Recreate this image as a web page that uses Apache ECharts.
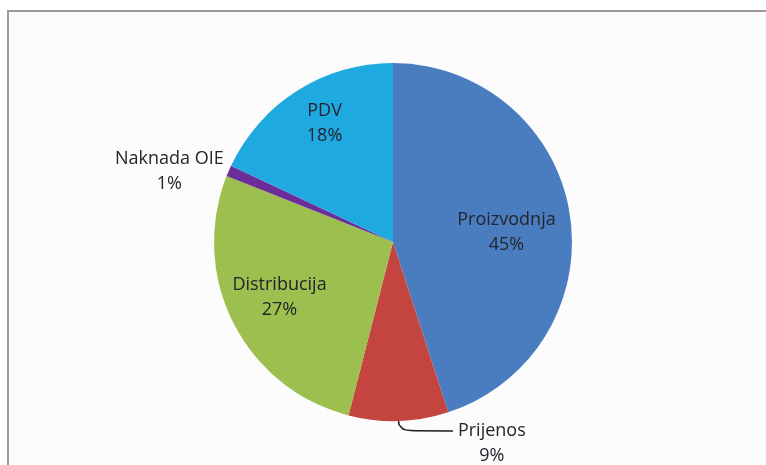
<!DOCTYPE html>
<html>
<head>
<meta charset="utf-8">
<script src="https://cdn.jsdelivr.net/npm/echarts@6/dist/echarts.min.js"></script>
<style>
  html, body { margin: 0; padding: 0; background: #ffffff; }
  #chart { width: 766px; height: 465px; }
</style>
</head>
<body>
<div id="chart"></div>
<script>
  // 数据：电价结构（%）
  const categories = ['Proizvodnja', 'Prijenos', 'Distribucija', 'Naknada OIE', 'PDV'];
  const shares = [45, 9, 27, 1, 18];

  // 颜色
  const sliceColors = ['#4a7dc0', '#c4443f', '#9cbf50', '#6c2d9b', '#1ea9e1'];
  const textColor = '#24242c';

  // 外部标签的类别
  const outsideLabels = ['Prijenos', 'Naknada OIE'];
  // 内部标签的微调（像 Excel 的"最佳匹配"位置）
  const labelNudge = { Proizvodnja: [-9, 10], PDV: [-2, -14], Distribucija: [-3, -1] };

  const chart = echarts.init(document.getElementById('chart'));

  const labelText = {
    formatter: '{t|{b}}\n{t|{c}%}',
    color: textColor,
    fontFamily: 'Open Sans',
    fontSize: 18,
    lineHeight: 25,
    rich: {
      t: { align: 'center', color: textColor, fontFamily: 'Open Sans', fontSize: 18, lineHeight: 25 }
    }
  };

  /** 主饼图：扇区 + 外部标签 */
  const mainData = categories.map((name, i) => {
    const item = { name, value: shares[i], itemStyle: { color: sliceColors[i] } };
    if (name === 'Prijenos') {
      item.label = { show: true, ...labelText, padding: [25, 0, 0, 0] };
      item.labelLine = {
        show: true, length: 10, length2: 54, smooth: 0.6,
        lineStyle: { color: '#1c1c1c', width: 1.5 }
      };
    } else if (name === 'Naknada OIE') {
      item.label = { show: true, ...labelText };
      item.labelLine = { show: false, length: 0, length2: 0 };
    } else {
      item.label = { show: false };
      item.labelLine = { show: false };
    }
    return item;
  });

  /** 透明叠加层：用于放置内部标签 */
  const overlayData = categories.map((name, i) => ({
    name,
    value: shares[i],
    label: {
      show: !outsideLabels.includes(name),
      offset: labelNudge[name] || [0, 0]
    }
  }));

  const option = {
    animation: false,
    backgroundColor: '#ffffff',
    graphic: [
      {
        type: 'rect',
        shape: { x: 8, y: 11, width: 800, height: 500 },
        style: { fill: '#fcfcfc', stroke: '#a09896', lineWidth: 2 },
        z: -10,
        silent: true
      }
    ],
    series: [
      {
        type: 'pie',
        center: [393, 242],
        radius: 179,
        startAngle: 90,
        clockwise: true,
        avoidLabelOverlap: false,
        silent: true,
        itemStyle: { borderWidth: 0 },
        label: { position: 'outside' },
        data: mainData
      },
      {
        type: 'pie',
        center: [393, 242],
        radius: 242,
        startAngle: 90,
        clockwise: true,
        avoidLabelOverlap: false,
        silent: true,
        z: 5,
        itemStyle: { color: 'rgba(0,0,0,0)', borderWidth: 0 },
        label: { position: 'inside', ...labelText },
        labelLine: { show: false },
        data: overlayData
      }
    ]
  };

  chart.setOption(option);
</script>
</body>
</html>
